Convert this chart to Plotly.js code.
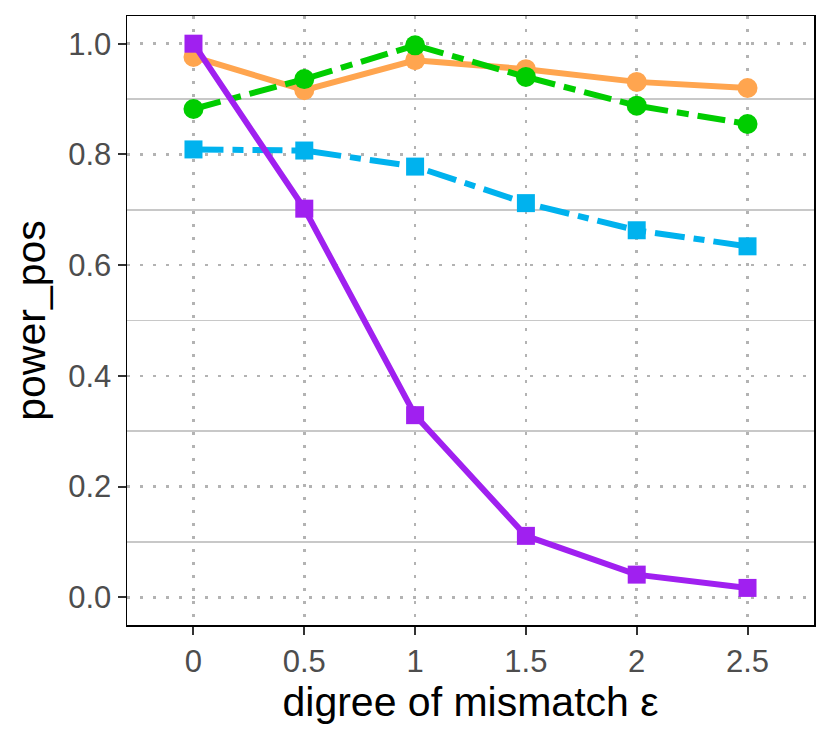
<!DOCTYPE html>
<html>
<head>
<meta charset="utf-8">
<script src="https://cdn.plot.ly/plotly-3.0.1.min.js"></script>
<style>
  html, body { margin: 0; padding: 0; background: #ffffff; }
  #chart { width: 830px; height: 747px; }
</style>
</head>
<body>
<div id="chart"></div>
<script type="text/javascript">

    /* * Data * */
    var eps_values = [0, 0.5, 1, 1.5, 2, 2.5];
    var eps_labels = ['0', '0.5', '1', '1.5', '2', '2.5'];
    var power_orange = [0.976, 0.916, 0.970, 0.954, 0.931, 0.920];
    var power_blue = [0.809, 0.807, 0.778, 0.712, 0.663, 0.634];
    var power_green = [0.882, 0.936, 0.997, 0.940, 0.888, 0.855];
    var power_purple = [1.000, 0.702, 0.329, 0.111, 0.041, 0.017];
    var y_ticks = [0, 0.2, 0.4, 0.6, 0.8, 1.0];
    var y_minor = [0.1, 0.3, 0.5, 0.7, 0.9];

    var chart_container = document.getElementById('chart');

    function make_trace(values, color, dash, symbol, size) {
        return {
            x: eps_values,
            y: values,
            type: 'scatter',
            mode: 'lines+markers',
            line: { color: color, width: 6, dash: dash },
            marker: { color: color, symbol: symbol, size: size },
            hoverinfo: 'x+y'
        };
    }

    var data = [
        make_trace(power_orange, '#FFA54F', 'solid', 'circle', 20),
        make_trace(power_blue, '#00B2EE', '30px,9px,11px,9px', 'square', 18),
        make_trace(power_green, '#00CD00', '28px,9px,12px,9px', 'circle', 20),
        make_trace(power_purple, '#A020F0', 'solid', 'square', 18)
    ];

    var tick_font = { family: 'Liberation Sans, Arial, sans-serif', size: 31, color: '#4D4D4D' };
    var title_font = { family: 'Liberation Sans, Arial, sans-serif', size: 41, color: '#000000' };

    var layout = {
        width: 830,
        height: 747,
        margin: { l: 127, r: 16, t: 16, b: 122 },
        paper_bgcolor: '#ffffff',
        plot_bgcolor: '#ffffff',
        showlegend: false,
        xaxis: {
            range: [-0.3, 2.8],
            tickvals: eps_values,
            ticktext: eps_labels,
            ticks: 'outside',
            ticklen: 8,
            tickwidth: 2,
            tickcolor: '#333333',
            tickfont: tick_font,
            showgrid: true,
            gridcolor: '#B3B3B3',
            gridwidth: 2.5,
            griddash: '3px,10px',
            zeroline: false,
            showline: true,
            mirror: true,
            linecolor: '#000000',
            linewidth: 1.5,
            title: { text: 'digree of mismatch ε', font: title_font, standoff: 8 }
        },
        yaxis: {
            range: [-0.05, 1.05],
            tickvals: y_ticks,
            tickformat: '.1f',
            ticks: 'outside',
            ticklen: 8,
            tickwidth: 2,
            tickcolor: '#333333',
            tickfont: tick_font,
            showgrid: true,
            gridcolor: '#B3B3B3',
            gridwidth: 2.5,
            griddash: '3px,10px',
            minor: {
                tickvals: y_minor,
                showgrid: true,
                gridcolor: '#C8C8C8',
                gridwidth: 1.5,
                griddash: 'solid',
                ticks: ''
            },
            zeroline: false,
            showline: true,
            mirror: true,
            linecolor: '#000000',
            linewidth: 1.5,
            title: { text: 'power_pos', font: title_font, standoff: 10 }
        }
    };

    Plotly.newPlot(chart_container, data, layout, { displayModeBar: false, staticPlot: true });

</script>
</body>
</html>
